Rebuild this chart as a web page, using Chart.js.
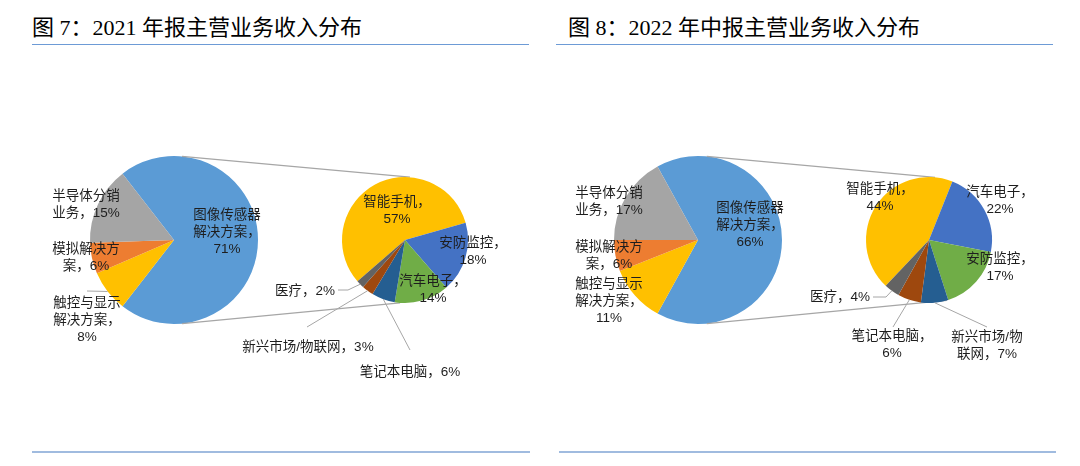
<!DOCTYPE html>
<html>
<head>
<meta charset="utf-8">
<script src="https://cdn.jsdelivr.net/npm/chart.js@4.4.1/dist/chart.umd.min.js"></script>
<style>
  body { margin: 0; background: #fff; }
  #page { position: relative; width: 1080px; height: 466px; overflow: hidden; }
  #page canvas { position: absolute; left: 0; top: 0; }
  .title {
    position: absolute; top: 16px; color: #000; white-space: pre;
    font: 22px/24px "Liberation Serif", "Noto Sans CJK SC", sans-serif;
  }
  .rule { position: absolute; top: 44px; height: 1px; background: #6d9bd6; }
  .foot { position: absolute; top: 451px; height: 2px; background: #a0bbdf; }
</style>
</head>
<body>
<div id="page">
  <div class="title" style="left:32px">图 7：2021 年报主营业务收入分布</div>
  <div class="rule" style="left:32px;width:497px"></div>
  <div class="title" style="left:568px">图 8：2022 年中报主营业务收入分布</div>
  <div class="rule" style="left:556px;width:497px"></div>
  <div class="foot" style="left:32px;width:498px"></div>
  <div class="foot" style="left:559px;width:497px"></div>
  <canvas id="main21" width="1080" height="466"></canvas>
  <canvas id="sub21" width="1080" height="466"></canvas>
  <canvas id="main22" width="1080" height="466"></canvas>
  <canvas id="sub22" width="1080" height="466"></canvas>
</div>
<script>
// Two "pie of pie" charts: left pie = business lines, right pie = the image
// sensor slice broken down by end market. Values are the % shown on the labels.

// 2021 annual report
const main21Labels = ["图像传感器解决方案", "触控与显示解决方案", "模拟解决方案", "半导体分销业务"];
const main21Values = [71, 8, 6, 15];
const sub21Labels = ["智能手机", "安防监控", "汽车电子", "笔记本电脑", "新兴市场/物联网", "医疗"];
const sub21Values = [57, 18, 14, 6, 3, 2];

// 2022 interim report
const main22Labels = ["图像传感器解决方案", "触控与显示解决方案", "模拟解决方案", "半导体分销业务"];
const main22Values = [66, 11, 6, 17];
const sub22Labels = ["智能手机", "汽车电子", "安防监控", "新兴市场/物联网", "笔记本电脑", "医疗"];
const sub22Values = [44, 22, 17, 7, 6, 4];

// Office palette, in slice order
const mainColors = ["#5b9bd5", "#ffc000", "#ed7d31", "#a5a5a5"];
const subColors = ["#ffc000", "#4472c4", "#70ad47", "#255e91", "#9e480e", "#636363"];

const W = 1080, H = 466;
const LABEL_FONT = '13.5px "Liberation Sans", "Noto Sans CJK SC", sans-serif';
const LINE_H = 17;

// split "name，xx%" after the given character counts; the rest is the last line
function wrap(text, breaks) {
  const chars = Array.from(text), out = [];
  let i = 0;
  (breaks || []).forEach((n) => { out.push(chars.slice(i, i + n).join("")); i += n; });
  out.push(chars.slice(i).join(""));
  return out;
}

// Data labels (+ optional leader lines) placed relative to the pie centre.
const pieLabels = {
  id: "pieLabels",
  afterDatasetsDraw(chart, args, opts) {
    if (!opts.items) return;
    const ctx = chart.ctx;
    const meta = chart.getDatasetMeta(0);
    const { x: cx, y: cy, outerRadius: r } = meta.data[0];
    const values = chart.data.datasets[0].data;
    ctx.save();
    ctx.strokeStyle = "#a6a6a6";
    ctx.lineWidth = 1;
    ctx.font = LABEL_FONT;
    ctx.fillStyle = "#1e1e1e";
    ctx.textAlign = "center";
    ctx.textBaseline = "middle";
    opts.items.forEach((it, i) => {
      const arc = meta.data[i];
      if (it.leader) {
        const mid = (arc.startAngle + arc.endAngle) / 2;
        ctx.beginPath();
        it.leader.forEach(([px, py], k) =>
          k ? ctx.lineTo(cx + px, cy + py) : ctx.moveTo(cx + px, cy + py));
        ctx.lineTo(cx + Math.cos(mid) * r, cy + Math.sin(mid) * r);
        ctx.stroke();
      }
      const lines = wrap(chart.data.labels[i] + "，" + values[i] + "%", it.breaks);
      const top = cy + it.dy - (lines.length - 1) * LINE_H / 2;
      lines.forEach((ln, k) => ctx.fillText(ln, cx + it.dx, top + k * LINE_H));
    });
    ctx.restore();
  },
};

// The two grey lines joining the main pie to the breakdown pie.
// Angles are degrees clockwise from 12 o'clock.
const pieLinks = {
  id: "pieLinks",
  beforeDatasetsDraw(chart, args, opts) {
    if (!opts.from) return;
    const main = Chart.getChart(opts.from);
    const a = main.getDatasetMeta(0).data[0];
    const b = chart.getDatasetMeta(0).data[0];
    const pt = (el, deg) => {
      const t = deg * Math.PI / 180;
      return [el.x + Math.sin(t) * el.outerRadius, el.y - Math.cos(t) * el.outerRadius];
    };
    const ctx = chart.ctx;
    ctx.save();
    ctx.strokeStyle = "#a6a6a6";
    ctx.lineWidth = 1.2;
    [[opts.mainTop, opts.subTop], [opts.mainBottom, opts.subBottom]].forEach(([m, s]) => {
      const p = pt(a, m), q = pt(b, s);
      ctx.beginPath();
      ctx.moveTo(p[0], p[1]);
      ctx.lineTo(q[0], q[1]);
      ctx.stroke();
    });
    ctx.restore();
  },
};

function makePie(id, labels, values, colors, geo, rotation, labelItems, links) {
  return new Chart(document.getElementById(id), {
    type: "pie",
    data: {
      labels,
      datasets: [{ data: values, backgroundColor: colors, borderWidth: 0, hoverOffset: 0 }],
    },
    options: {
      responsive: false,
      animation: false,
      events: [],
      rotation,
      layout: {
        padding: {
          left: geo.cx - geo.r, right: W - geo.cx - geo.r,
          top: geo.cy - geo.r, bottom: H - geo.cy - geo.r,
        },
      },
      plugins: {
        legend: { display: false },
        tooltip: { enabled: false },
        pieLabels: { items: labelItems },
        pieLinks: links || {},
      },
    },
    plugins: [pieLinks, pieLabels],
  });
}

// --- 2021 ---
makePie("main21", main21Labels, main21Values, mainColors, { cx: 174, cy: 240, r: 84 }, -37.8, [
  { dx: 53, dy: -8, breaks: [5, 5] },
  { dx: -87, dy: 80, breaks: [5, 5], leader: [[-87, 51]] },
  { dx: -88, dy: 18, breaks: [5] },
  { dx: -88, dy: -35, breaks: [5] },
]);
makePie("sub21", sub21Labels, sub21Values, subColors, { cx: 405, cy: 240, r: 63 }, -131, [
  { dx: -8, dy: -29, breaks: [5] },
  { dx: 68, dy: 12, breaks: [5] },
  { dx: 28, dy: 50, breaks: [5] },
  { dx: 5, dy: 132, leader: [[5, 110]] },
  { dx: -97, dy: 107, leader: [[-98, 87]] },
  { dx: -100, dy: 51, leader: [[-67, 50], [-57, 50]] },
], { from: "main21", mainTop: 5.5, mainBottom: 174.5, subTop: 4.5, subBottom: 184.5 });

// --- 2022 H1 ---
makePie("main22", main22Labels, main22Values, mainColors, { cx: 698, cy: 240, r: 84 }, -28.8, [
  { dx: 52, dy: -15, breaks: [5, 5] },
  { dx: -89, dy: 61, breaks: [5, 5] },
  { dx: -89, dy: 16, breaks: [5] },
  { dx: -89, dy: -38, breaks: [5] },
]);
makePie("sub22", sub22Labels, sub22Values, subColors, { cx: 929, cy: 240, r: 63 }, -136.6, [
  { dx: -49, dy: -42, breaks: [5] },
  { dx: 71, dy: -39, breaks: [5] },
  { dx: 71, dy: 28, breaks: [5] },
  { dx: 58, dy: 106, breaks: [6], leader: [[58, 87]] },
  { dx: -37, dy: 105, breaks: [6], leader: [[-36, 87]] },
  { dx: -89, dy: 57, leader: [[-56, 57], [-43, 57]] },
], { from: "main22", mainTop: 6, mainBottom: 174, subTop: 5.5, subBottom: 163.5 });
</script>
</body>
</html>
